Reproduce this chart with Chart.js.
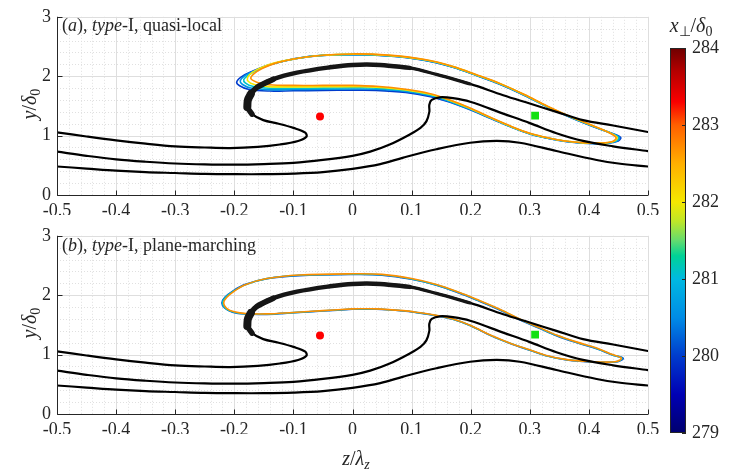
<!DOCTYPE html>
<html>
<head>
<meta charset="utf-8">
<script src="https://cdn.jsdelivr.net/npm/chart.js@4.4.1/dist/chart.umd.min.js"></script>
<style>
body{margin:0;background:#fff;}
#wrap{position:relative;width:748px;height:471px;overflow:hidden;font-family:"Liberation Serif",serif;color:#262626;}
canvas{position:absolute;}
.lbl{position:absolute;font-size:18px;line-height:1;white-space:nowrap;}
.ttl{position:absolute;font-size:20px;line-height:1;white-space:nowrap;transform:translate(-50%,-50%);}
.rot{transform:translate(-50%,-50%) rotate(-90deg);}
sub{font-size:70%;vertical-align:-0.25em;line-height:0;}
</style>
</head>
<body>
<div id="wrap">
<canvas id="ca" width="665" height="215" style="left:0;top:0"></canvas>
<canvas id="cb" width="665" height="252" style="left:0;top:219px"></canvas>
<canvas id="cc" width="88" height="471" style="left:660px;top:0"></canvas>
<div class="lbl" style="left:62px;top:16px">(<i>a</i>), <i>type</i>-I, quasi-local</div>
<div class="lbl" style="left:62px;top:236px">(<i>b</i>), <i>type</i>-I, plane-marching</div>
<div class="ttl rot" style="left:29px;top:104px"><i>y</i>/<i>δ</i><sub>0</sub></div>
<div class="ttl rot" style="left:29px;top:323px"><i>y</i>/<i>δ</i><sub>0</sub></div>
<div class="ttl" style="left:356px;top:458px"><i>z</i>/<i>λ</i><sub><i>z</i></sub></div>
<div class="ttl" style="left:691px;top:25px"><i>x</i><sub>⊥</sub>/<i>δ</i><sub>0</sub></div>
</div>
<script>
// axis ticks
const xTicks = [-0.5,-0.4,-0.3,-0.2,-0.1,0,0.1,0.2,0.3,0.4,0.5];
const yTicks = [0,1,2,3];
const cbarTicks = [279,280,281,282,283,284];

// black streamlines (z, y), same in both panels
const streamTop = [[-0.5,1.055],[-0.45,0.985],[-0.4,0.92],[-0.35,0.865],[-0.3,0.82],[-0.25,0.80],[-0.207,0.79],[-0.16,0.81],[-0.123,0.85],[-0.092,0.91],[-0.078,0.98],[-0.08,1.05],[-0.1,1.13],[-0.125,1.2],[-0.151,1.26],[-0.17,1.36],[-0.178,1.48],[-0.177,1.6],[-0.172,1.7],[-0.162,1.81],[-0.134,1.95],[-0.094,2.06],[-0.038,2.15],[0,2.19],[0.047,2.19],[0.097,2.14],[0.142,2.03],[0.199,1.87],[0.255,1.68],[0.3,1.54],[0.345,1.40],[0.39,1.26],[0.441,1.17],[0.5,1.06]];
const streamMid = [[-0.5,0.73],[-0.45,0.66],[-0.4,0.60],[-0.35,0.56],[-0.3,0.53],[-0.25,0.515],[-0.2,0.51],[-0.15,0.52],[-0.1,0.54],[-0.05,0.59],[0,0.66],[0.03,0.73],[0.063,0.85],[0.097,1.02],[0.115,1.13],[0.125,1.24],[0.13,1.40],[0.13,1.52],[0.134,1.6],[0.148,1.645],[0.17,1.63],[0.199,1.57],[0.255,1.37],[0.3,1.21],[0.345,1.04],[0.39,0.91],[0.441,0.82],[0.5,0.74]];
const streamLow = [[-0.5,0.48],[-0.45,0.445],[-0.4,0.41],[-0.35,0.385],[-0.3,0.37],[-0.25,0.355],[-0.2,0.35],[-0.15,0.35],[-0.1,0.36],[-0.05,0.385],[0,0.44],[0.047,0.52],[0.086,0.63],[0.142,0.77],[0.199,0.88],[0.244,0.91],[0.283,0.88],[0.345,0.74],[0.413,0.59],[0.45,0.53],[0.5,0.48]];

// vortex core markers
const redDot = [[-0.055,1.32]];
const greenSquare = [[0.309,1.335]];

// coloured iso-contours, panel (a)
const loopA_values = [280.0, 280.6, 281.1, 282.0, 282.7];
const loopA_blue = [[0,1.765],[-0.05,1.76],[-0.1,1.755],[-0.14,1.75],[-0.175,1.775],[-0.191,1.84],[-0.196,1.90],[-0.188,1.99],[-0.17,2.08],[-0.145,2.18],[-0.11,2.27],[-0.065,2.338],[0,2.36],[0.06,2.34],[0.12,2.27],[0.17,2.15],[0.21,2.01],[0.25,1.86],[0.29,1.68],[0.33,1.48],[0.37,1.30],[0.41,1.14],[0.44,1.035],[0.454,0.965],[0.447,0.9],[0.424,0.866],[0.39,0.872],[0.36,0.902],[0.33,0.956],[0.3,1.028],[0.27,1.136],[0.235,1.282],[0.2,1.43],[0.165,1.56],[0.13,1.66],[0.09,1.728],[0.04,1.762],[0,1.765]];
const loopA_lblue = [[0,1.785],[-0.05,1.78],[-0.1,1.775],[-0.14,1.772],[-0.172,1.8],[-0.186,1.86],[-0.19,1.92],[-0.183,2.0],[-0.166,2.09],[-0.141,2.19],[-0.107,2.275],[-0.063,2.34],[0,2.363],[0.06,2.343],[0.12,2.273],[0.17,2.153],[0.21,2.013],[0.25,1.863],[0.29,1.683],[0.33,1.483],[0.37,1.303],[0.41,1.143],[0.439,1.036],[0.452,0.965],[0.445,0.9],[0.423,0.868],[0.39,0.874],[0.36,0.904],[0.33,0.958],[0.3,1.03],[0.27,1.139],[0.235,1.287],[0.2,1.438],[0.165,1.572],[0.13,1.675],[0.09,1.745],[0.04,1.78],[0,1.785]];
const loopA_cyan = [[0,1.805],[-0.05,1.8],[-0.1,1.797],[-0.14,1.797],[-0.169,1.83],[-0.181,1.885],[-0.184,1.945],[-0.176,2.02],[-0.16,2.11],[-0.137,2.2],[-0.104,2.28],[-0.062,2.342],[0,2.367],[0.06,2.347],[0.12,2.277],[0.17,2.157],[0.21,2.017],[0.25,1.867],[0.29,1.687],[0.33,1.487],[0.37,1.307],[0.41,1.147],[0.438,1.037],[0.45,0.965],[0.443,0.9],[0.422,0.87],[0.39,0.876],[0.36,0.906],[0.33,0.96],[0.3,1.033],[0.27,1.142],[0.235,1.292],[0.2,1.446],[0.165,1.584],[0.13,1.69],[0.09,1.76],[0.04,1.8],[0,1.805]];
const loopA_yellow = [[0,1.825],[-0.05,1.822],[-0.1,1.82],[-0.14,1.825],[-0.166,1.86],[-0.177,1.92],[-0.177,1.99],[-0.17,2.06],[-0.156,2.14],[-0.133,2.22],[-0.1,2.287],[-0.06,2.343],[0,2.371],[0.06,2.351],[0.12,2.281],[0.17,2.161],[0.21,2.021],[0.25,1.871],[0.29,1.691],[0.33,1.491],[0.37,1.311],[0.41,1.151],[0.437,1.039],[0.448,0.965],[0.441,0.9],[0.421,0.873],[0.39,0.878],[0.36,0.908],[0.33,0.963],[0.3,1.037],[0.27,1.146],[0.235,1.296],[0.2,1.453],[0.165,1.593],[0.13,1.7],[0.09,1.77],[0.04,1.815],[0,1.825]];
const loopA_orange = [[0,1.845],[-0.05,1.845],[-0.1,1.845],[-0.14,1.855],[-0.162,1.9],[-0.172,1.96],[-0.167,2.04],[-0.153,2.13],[-0.13,2.22],[-0.1,2.29],[-0.06,2.345],[0,2.375],[0.06,2.355],[0.12,2.285],[0.17,2.165],[0.21,2.025],[0.25,1.875],[0.29,1.695],[0.33,1.495],[0.37,1.315],[0.41,1.155],[0.436,1.04],[0.446,0.965],[0.44,0.9],[0.42,0.875],[0.39,0.88],[0.36,0.91],[0.33,0.965],[0.3,1.04],[0.27,1.15],[0.235,1.30],[0.2,1.46],[0.165,1.60],[0.13,1.71],[0.09,1.78],[0.04,1.83],[0,1.845]];

// coloured iso-contours, panel (b)
const loopB_values = [280.1, 281.1, 282.7];
const loopB_blue = [[0,1.764],[-0.05,1.734],[-0.1,1.704],[-0.145,1.678],[-0.182,1.683],[-0.203,1.715],[-0.216,1.78],[-0.221,1.87],[-0.216,1.965],[-0.202,2.074],[-0.181,2.183],[-0.145,2.278],[-0.09,2.33],[0,2.348],[0.05,2.338],[0.1,2.268],[0.142,2.168],[0.18,2.038],[0.21,1.918],[0.25,1.748],[0.283,1.588],[0.315,1.448],[0.345,1.318],[0.38,1.198],[0.413,1.098],[0.441,0.99],[0.458,0.938],[0.449,0.882],[0.42,0.87],[0.39,0.885],[0.36,0.915],[0.33,0.975],[0.3,1.074],[0.27,1.175],[0.235,1.315],[0.2,1.485],[0.17,1.595],[0.142,1.655],[0.11,1.705],[0.086,1.735],[0.04,1.764],[0,1.764]];
const loopB_cyan = [[0,1.767],[-0.05,1.737],[-0.1,1.707],[-0.145,1.681],[-0.181,1.686],[-0.202,1.717],[-0.215,1.78],[-0.22,1.87],[-0.215,1.963],[-0.201,2.072],[-0.18,2.181],[-0.145,2.279],[-0.09,2.335],[0,2.354],[0.05,2.344],[0.1,2.274],[0.142,2.174],[0.18,2.044],[0.21,1.924],[0.25,1.754],[0.283,1.594],[0.315,1.454],[0.345,1.324],[0.38,1.204],[0.413,1.104],[0.44,0.995],[0.456,0.939],[0.448,0.883],[0.42,0.872],[0.39,0.887],[0.36,0.917],[0.33,0.977],[0.3,1.077],[0.27,1.177],[0.235,1.317],[0.2,1.487],[0.17,1.597],[0.142,1.657],[0.11,1.707],[0.086,1.737],[0.04,1.767],[0,1.767]];
const loopB_orange = [[0,1.77],[-0.05,1.74],[-0.1,1.71],[-0.145,1.685],[-0.18,1.69],[-0.2,1.72],[-0.213,1.78],[-0.218,1.87],[-0.213,1.96],[-0.2,2.07],[-0.18,2.18],[-0.145,2.28],[-0.09,2.34],[0,2.36],[0.05,2.35],[0.1,2.28],[0.142,2.18],[0.18,2.05],[0.21,1.93],[0.25,1.76],[0.283,1.60],[0.315,1.46],[0.345,1.33],[0.38,1.21],[0.413,1.11],[0.44,1.0],[0.455,0.94],[0.447,0.885],[0.42,0.875],[0.39,0.89],[0.36,0.92],[0.33,0.98],[0.3,1.08],[0.27,1.18],[0.235,1.32],[0.2,1.49],[0.17,1.60],[0.142,1.66],[0.11,1.71],[0.086,1.74],[0.04,1.77],[0,1.77]];

// colour map (jet-like) of the colour bar
const cmapPos = [0,0.1,0.2,0.3,0.4,0.46,0.5,0.55,0.6,0.7,0.8,0.86,0.94,1];
const cmapRGB = [[0,0,110],[0,0,180],[0,60,205],[0,140,230],[0,185,225],[0,210,150],[100,220,110],[190,230,40],[245,232,0],[255,175,0],[255,95,0],[250,0,0],[180,0,0],[110,0,0]];

const FONT = '"Liberation Serif", "DejaVu Serif", serif';
const INK = '#262626';

function cmap(v){
  const t = Math.min(1, Math.max(0, (v - cbarTicks[0]) / (cbarTicks[cbarTicks.length-1] - cbarTicks[0])));
  let i = 0;
  while (i < cmapPos.length - 2 && t > cmapPos[i+1]) i++;
  const f = (t - cmapPos[i]) / (cmapPos[i+1] - cmapPos[i]);
  const c = cmapRGB[i].map((a, k) => Math.round(a + (cmapRGB[i+1][k] - a) * f));
  return 'rgb(' + c.join(',') + ')';
}

function line(pts, color, w){
  return {data: pts.map(p => ({x: p[0], y: p[1]})), showLine: true, borderColor: color, borderWidth: w,
    pointRadius: 0, tension: 0.35, fill: false, borderCapStyle: 'round', borderJoinStyle: 'round'};
}

/* matlab style grid + axes */
const gridPlugin = {
  id: 'mgrid',
  beforeDatasetsDraw(chart){
    const {ctx, chartArea: a, scales: {x, y}} = chart;
    ctx.save();
    ctx.lineWidth = 1;
    ctx.strokeStyle = '#e0e0e0';
    ctx.setLineDash([1, 2]);
    for (let i = -25; i <= 25; i++) {
      if (i % 5 === 0) continue;
      const px = Math.round(x.getPixelForValue(i * 0.02)) + 0.5;
      ctx.beginPath(); ctx.moveTo(px, a.top); ctx.lineTo(px, a.bottom); ctx.stroke();
    }
    for (let i = 0; i <= 15; i++) {
      if (i % 5 === 0) continue;
      const py = Math.round(y.getPixelForValue(i * 0.2)) + 0.5;
      ctx.beginPath(); ctx.moveTo(a.left, py); ctx.lineTo(a.right, py); ctx.stroke();
    }
    ctx.setLineDash([]);
    ctx.strokeStyle = '#dedede';
    xTicks.forEach(v => {
      const px = Math.round(x.getPixelForValue(v)) + 0.5;
      ctx.beginPath(); ctx.moveTo(px, a.top); ctx.lineTo(px, a.bottom); ctx.stroke();
    });
    yTicks.forEach(v => {
      const py = Math.round(y.getPixelForValue(v)) + 0.5;
      ctx.beginPath(); ctx.moveTo(a.left, py); ctx.lineTo(a.right, py); ctx.stroke();
    });
    ctx.restore();
  },
  afterDatasetsDraw(chart){
    const {ctx, chartArea: a, scales: {x, y}} = chart;
    ctx.save();
    ctx.strokeStyle = INK;
    ctx.lineWidth = 1;
    const L = Math.round(a.left) + 0.5, B = Math.round(a.bottom) + 0.5;
    ctx.beginPath(); ctx.moveTo(L, a.top); ctx.lineTo(L, B); ctx.lineTo(a.right, B); ctx.stroke();
    xTicks.forEach(v => {
      const px = Math.round(x.getPixelForValue(v)) + 0.5;
      ctx.beginPath(); ctx.moveTo(px, B); ctx.lineTo(px, B - 5); ctx.stroke();
    });
    yTicks.forEach(v => {
      const py = Math.round(y.getPixelForValue(v)) + 0.5;
      ctx.beginPath(); ctx.moveTo(L, py); ctx.lineTo(L + 5, py); ctx.stroke();
    });
    ctx.restore();
  }
};

/* chart.js paints dataset 0 last, so the list goes from top-most to bottom-most */
function makePanel(id, loops, loopVals, padBottom){
  const ds = [];
  ds.push({data: redDot.map(p => ({x: p[0], y: p[1]})), pointRadius: 4, pointBackgroundColor: '#ff0000', pointBorderWidth: 0});
  ds.push({data: greenSquare.map(p => ({x: p[0], y: p[1]})), pointStyle: 'rect', pointRadius: 5.5, pointBackgroundColor: '#10e010', pointBorderWidth: 0});
  // dense bundle of streamlines round the S-bend
  ds.push(line(streamTop.slice(16, 19), '#161616', 8));
  ds.push(line(streamTop.slice(15, 21), '#161616', 5.5));
  ds.push(line(streamTop.slice(19, 26), '#161616', 4.5));
  ds.push(line(streamTop.slice(24, 28), '#161616', 3.2));
  ds.push(line(streamTop, '#000', 2.2));
  ds.push(line(streamMid, '#000', 2.2));
  ds.push(line(streamLow, '#000', 2.2));
  for (let i = loops.length - 1; i >= 0; i--) ds.push(line(loops[i], cmap(loopVals[i]), 1.6));
  return new Chart(document.getElementById(id), {
    type: 'scatter',
    data: {datasets: ds},
    options: {
      responsive: false, animation: false, events: [],
      layout: {padding: {top: 13, right: 17, left: 0, bottom: padBottom}},
      plugins: {legend: {display: false}, tooltip: {enabled: false}},
      scales: {
        x: {type: 'linear', min: -0.5, max: 0.5,
          ticks: {stepSize: 0.1, color: INK, padding: 5, font: {family: FONT, size: 18},
            callback: v => String(Math.round(v * 10) / 10)},
          grid: {display: false, drawTicks: false}, border: {display: false},
          afterFit(s){ s.height = 20; }},
        y: {type: 'linear', min: 0, max: 3,
          ticks: {stepSize: 1, color: INK, padding: 6, font: {family: FONT, size: 18}},
          grid: {display: false, drawTicks: false}, border: {display: false},
          afterFit(s){ s.width = 57; }}
      }
    },
    plugins: [gridPlugin]
  });
}

makePanel('ca', [loopA_blue, loopA_lblue, loopA_cyan, loopA_yellow, loopA_orange], loopA_values, 0);
makePanel('cb', [loopB_blue, loopB_cyan, loopB_orange], loopB_values, 37);

/* colour bar */
const cbarPlugin = {
  id: 'cbar',
  afterDatasetsDraw(chart){
    const {ctx, chartArea: a, scales: {y}} = chart;
    ctx.save();
    ctx.strokeStyle = INK; ctx.lineWidth = 1;
    ctx.strokeRect(Math.round(a.left) + 0.5, Math.round(a.top) + 0.5, Math.round(a.right - a.left) - 1, Math.round(a.bottom - a.top) - 1);
    cbarTicks.forEach(v => {
      const py = Math.round(y.getPixelForValue(v)) + 0.5;
      ctx.beginPath(); ctx.moveTo(a.right, py); ctx.lineTo(a.right - 4, py); ctx.stroke();
    });
    ctx.restore();
  }
};
new Chart(document.getElementById('cc'), {
  type: 'bar',
  data: {labels: [''], datasets: [{
    data: [[cbarTicks[0], cbarTicks[cbarTicks.length-1]]],
    backgroundColor: c => {
      const a = c.chart.chartArea;
      if (!a) return '#000';
      const g = c.chart.ctx.createLinearGradient(0, a.bottom, 0, a.top);
      cmapPos.forEach((p, i) => g.addColorStop(p, 'rgb(' + cmapRGB[i].join(',') + ')'));
      return g;
    },
    borderWidth: 0, barPercentage: 1, categoryPercentage: 1
  }]},
  options: {
    responsive: false, animation: false, events: [],
    layout: {padding: {left: 10, top: 48, bottom: 38, right: 0}},
    plugins: {legend: {display: false}, tooltip: {enabled: false}},
    scales: {
      x: {display: false},
      y: {position: 'right', min: 279, max: 284,
        ticks: {stepSize: 1, color: INK, padding: 6, font: {family: FONT, size: 18}},
        grid: {display: false, drawTicks: false}, border: {display: false},
        afterFit(s){ s.width = 62; }}
    }
  },
  plugins: [cbarPlugin]
});
</script>
</body>
</html>
